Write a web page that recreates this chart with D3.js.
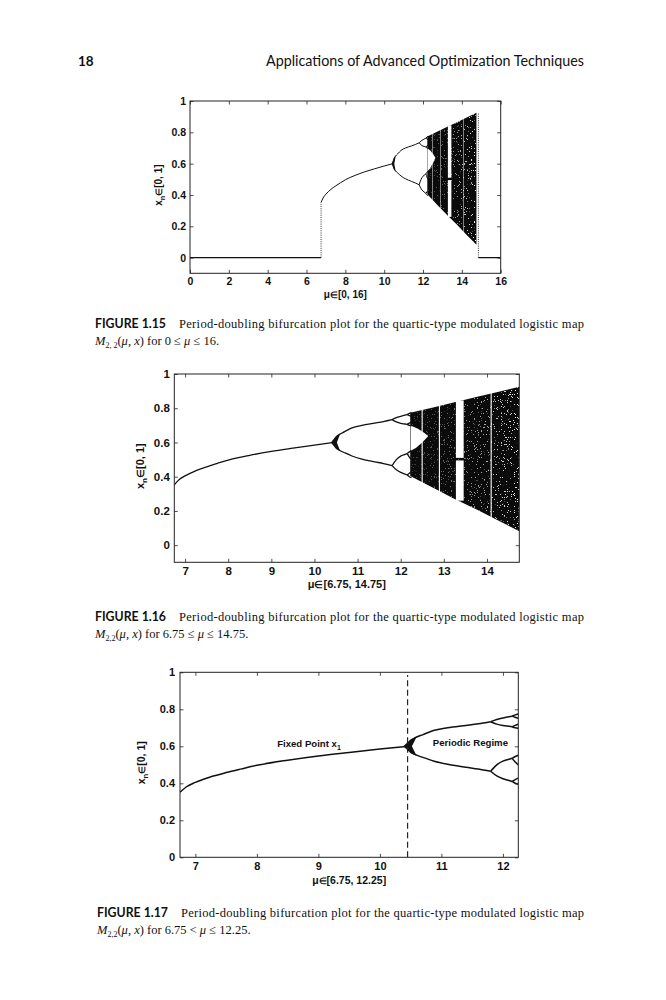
<!DOCTYPE html>
<html>
<head>
<meta charset="utf-8">
<script src="https://cdnjs.cloudflare.com/ajax/libs/d3/7.8.5/d3.min.js"></script>
<style>
body { margin: 0; background: #fff; }
.tick text { font-family: "Liberation Sans", Arial, sans-serif; font-weight: bold; fill: #111; }
.lab { font-family: "Liberation Sans", Arial, sans-serif; font-weight: bold; fill: #111; }
</style>
</head>
<body>
<script>
// branches of the bifurcation plot (mu, x)
const fixedMu = [6.75, 6.85, 7, 7.25, 7.5, 7.75, 8, 8.5, 9, 9.5, 10, 10.45];
const fixedX  = [0.352, 0.38, 0.405, 0.435, 0.458, 0.478, 0.497, 0.525, 0.548, 0.567, 0.585, 0.6];

const p2Mu     = [10.45, 10.5, 10.57, 10.7, 10.87, 11.1, 11.4, 11.6, 11.8];
const p2UpperX = [0.6, 0.628, 0.645, 0.663, 0.685, 0.7, 0.713, 0.722, 0.733];
const p2LowerX = [0.6, 0.572, 0.556, 0.54, 0.521, 0.503, 0.487, 0.477, 0.465];

const p4Mu = [11.8, 11.9, 12, 12.1, 12.15];
const p4X = [
	[0.733, 0.745, 0.753, 0.76, 0.763],
	[0.733, 0.72, 0.712, 0.708, 0.706],
	[0.465, 0.5, 0.52, 0.53, 0.535],
	[0.465, 0.44, 0.425, 0.415, 0.41]
];
const p8Mu = [12.15, 12.2, 12.25];
const p8X = [
	[0.763, 0.77, 0.775], [0.763, 0.757, 0.752],
	[0.706, 0.713, 0.72], [0.706, 0.7, 0.697],
	[0.535, 0.545, 0.552], [0.535, 0.515, 0.5],
	[0.41, 0.42, 0.428], [0.41, 0.4, 0.395]
];

// dark wedge where the orbit converges slowly at the first doubling
const blobMu = [10.38, 10.5, 10.6, 10.58, 10.52, 10.58, 10.6, 10.5];
const blobX  = [0.6, 0.638, 0.654, 0.64, 0.6, 0.56, 0.548, 0.562];

// chaotic band envelope
const chaosMu      = [12.22, 12.75, 13.25, 13.75, 14.25, 14.75];
const chaosTopX    = [0.773, 0.805, 0.835, 0.865, 0.895, 0.925];
const chaosBottomX = [0.404, 0.335, 0.27, 0.21, 0.145, 0.082];

// white gap between the two chaotic bands
const inletMu = [12.23, 12.4, 12.55, 12.64, 12.5, 12.35, 12.23];
const inletX  = [0.699, 0.68, 0.656, 0.638, 0.6, 0.568, 0.552];

// periodic windows inside the chaos
const winMuFrom = [12.485, 12.885, 13.28, 13.28, 14.085];
const winMuTo   = [12.51, 12.91, 13.46, 13.46, 14.11];
const winXFrom  = [0.3, 0.25, 0.51, 0.26, 0.1];
const winXTo    = [0.8, 0.85, 0.845, 0.495, 0.95];

// only on the full range plot
const zeroLeftMu  = [0, 6.75];
const zeroRightMu = [14.85, 16];
const jumpMu   = [6.75, 14.85];
const jumpTopX = [0.352, 0.925];

const boundaryMu = [10.45];

const xTicks1 = [0, 2, 4, 6, 8, 10, 12, 14, 16];
const xTicks2 = [7, 8, 9, 10, 11, 12, 13, 14];
const xTicks3 = [7, 8, 9, 10, 11, 12];
const yTicks  = [0, 0.2, 0.4, 0.6, 0.8, 1];

const w = 666;
const h = 1000;

const svg = d3.select("body").append("svg").attr("width", w).attr("height", h).style("background-color", "white");
const defs = svg.append("defs");

// speckle texture for the chaotic band
const f = defs.append("filter").attr("id", "speckle");
f.append("feTurbulence").attr("type", "fractalNoise").attr("baseFrequency", 1.3).attr("numOctaves", 1).attr("seed", 7).attr("result", "noise");
f.append("feColorMatrix").attr("in", "noise").attr("type", "matrix")
	.attr("values", "0 0 0 0 1  0 0 0 0 1  0 0 0 0 1  30 0 0 0 -19.3").attr("result", "dots");
f.append("feComposite").attr("in", "dots").attr("in2", "SourceAlpha").attr("operator", "in");

const grad = defs.append("linearGradient").attr("id", "speckFade").attr("x1", 0).attr("x2", 1).attr("y1", 0).attr("y2", 0);
grad.append("stop").attr("offset", 0).attr("stop-color", "#333");
grad.append("stop").attr("offset", 0.45).attr("stop-color", "#777");
grad.append("stop").attr("offset", 1).attr("stop-color", "#eee");
defs.append("mask").attr("id", "speckMask").attr("maskContentUnits", "objectBoundingBox")
	.append("rect").attr("width", 1).attr("height", 1).attr("fill", "url(#speckFade)");

const pairs = (mu, xs) => mu.map((m, i) => [m, xs[i]]);

const panels = [
	{left: 190, top: 101, right: 500.7, bottom: 273.3, xDom: [0, 16], yDom: [-0.1, 1], xTicks: xTicks1,
		fs: 10.5, pad: 4, xLabel: "μ∈[0, 16]", xLabelY: 298, yLabelX: 162, sw: 1, full: true},
	{left: 174.3, top: 374, right: 519.3, bottom: 562.3, xDom: [6.75, 14.75], yDom: [-0.1, 1], xTicks: xTicks2,
		fs: 11.5, pad: 4.5, xLabel: "μ∈[6.75, 14.75]", xLabelY: 588, yLabelX: 144, sw: 1.3},
	{left: 180, top: 672.3, right: 518.3, bottom: 857.3, xDom: [6.75, 12.25], yDom: [0, 1], xTicks: xTicks3,
		fs: 11, pad: 5, xLabel: "μ∈[6.75, 12.25]", xLabelY: 884, yLabelX: 145, sw: 1.5, notes: true}
];

panels.forEach((p, k) => {
	const x = d3.scaleLinear().domain(p.xDom).range([p.left, p.right]);
	const y = d3.scaleLinear().domain(p.yDom).range([p.bottom, p.top]);
	const line = d3.line().x(d => x(d[0])).y(d => y(d[1]));
	const smooth = d3.line().x(d => x(d[0])).y(d => y(d[1])).curve(d3.curveMonotoneX);

	defs.append("clipPath").attr("id", `clip${k}`).append("rect")
		.attr("x", p.left).attr("y", p.top).attr("width", p.right - p.left).attr("height", p.bottom - p.top);
	const g = svg.append("g").attr("clip-path", `url(#clip${k})`);

	// chaotic region (the last plot stops right where it starts)
	if (!p.notes) {
		const band = pairs(chaosMu, chaosTopX).concat(pairs(chaosMu, chaosBottomX).reverse());
		g.append("path").attr("d", line(band) + "Z").attr("fill", "#0b0b0b");
		g.append("g").attr("mask", "url(#speckMask)")
			.append("path").attr("d", line(band) + "Z").attr("fill", "#000").attr("filter", "url(#speckle)");

		winMuFrom.forEach((m, i) => {
			g.append("rect").attr("x", x(m)).attr("width", x(winMuTo[i]) - x(m))
				.attr("y", y(winXTo[i])).attr("height", y(winXFrom[i]) - y(winXTo[i])).attr("fill", "#fff");
		});
		g.append("path").attr("d", line(pairs(inletMu, inletX)) + "Z").attr("fill", "#fff");
	}

	// periodic branches
	const branches = [pairs(fixedMu, fixedX), pairs(p2Mu, p2UpperX), pairs(p2Mu, p2LowerX)]
		.concat(p4X.map(xs => pairs(p4Mu, xs)), p8X.map(xs => pairs(p8Mu, xs)));
	g.selectAll(".branch").data(branches).enter().append("path").attr("class", "branch")
		.attr("d", smooth).attr("fill", "none").attr("stroke", "#111").attr("stroke-width", p.sw);
	g.append("path").attr("d", line(pairs(blobMu, blobX)) + "Z").attr("fill", "#111");

	if (p.full) {
		[zeroLeftMu, zeroRightMu].forEach(seg => {
			g.append("path").attr("d", line(seg.map(m => [m, 0]))).attr("stroke", "#111").attr("stroke-width", 1.2).attr("fill", "none");
		});
		jumpMu.forEach((m, i) => {
			g.append("path").attr("d", line([[m, 0], [m, jumpTopX[i]]]))
				.attr("stroke", "#333").attr("stroke-width", 1).attr("stroke-dasharray", "1,1.2").attr("fill", "none");
		});
	}

	if (p.notes) {
		boundaryMu.forEach(m => {
			g.append("path").attr("d", line([[m, 0], [m, 0.985]]))
				.attr("stroke", "#222").attr("stroke-width", 1.2).attr("stroke-dasharray", "6,3.5").attr("fill", "none");
		});
		const t1 = svg.append("text").attr("class", "lab").attr("x", x(8.33)).attr("y", y(0.597)).style("font-size", "9.6px");
		t1.append("tspan").text("Fixed Point x");
		t1.append("tspan").attr("dy", 3).style("font-size", "7px").text("1");
		svg.append("text").attr("class", "lab").attr("x", x(10.86)).attr("y", y(0.6)).style("font-size", "9.6px").text("Periodic Regime");
	}

	// axes, MATLAB style with inward ticks on all four sides
	const ax = (axis, tr, labels) => {
		const a = svg.append("g").attr("transform", tr).call(axis.tickSize(-3.5).tickSizeOuter(0).tickPadding(p.pad));
		a.select(".domain").remove();
		a.selectAll(".tick line").attr("stroke", "#222").attr("stroke-width", 0.8);
		a.selectAll(".tick text").style("font-size", `${p.fs}px`);
		if (!labels) a.selectAll(".tick text").remove();
	};
	ax(d3.axisBottom(x).tickValues(p.xTicks).tickFormat(d3.format("")), `translate(0, ${p.bottom})`, true);
	ax(d3.axisTop(x).tickValues(p.xTicks), `translate(0, ${p.top})`, false);
	ax(d3.axisLeft(y).tickValues(yTicks).tickFormat(d3.format("")), `translate(${p.left}, 0)`, true);
	ax(d3.axisRight(y).tickValues(yTicks), `translate(${p.right}, 0)`, false);

	svg.append("rect").attr("x", p.left).attr("y", p.top).attr("width", p.right - p.left).attr("height", p.bottom - p.top)
		.attr("fill", "none").attr("stroke", "#222").attr("stroke-width", 1);

	const xl = svg.append("text").attr("class", "lab").attr("x", (p.left + p.right) / 2).attr("y", p.xLabelY)
		.attr("text-anchor", "middle").style("font-size", `${p.fs - 0.5}px`);
	xl.append("tspan").text(p.xLabel.slice(0, 1));
	xl.append("tspan").style("font-size", `${p.fs - 2}px`).text("∈");
	xl.append("tspan").text(p.xLabel.slice(2));

	const yl = svg.append("text").attr("class", "lab").attr("text-anchor", "middle").style("font-size", `${p.fs - 0.5}px`)
		.attr("transform", `translate(${p.yLabelX}, ${(p.top + p.bottom) / 2 - 2}) rotate(-90)`);
	yl.append("tspan").text("x");
	yl.append("tspan").attr("dy", 3).style("font-size", `${p.fs * 0.7}px`).text("n");
	yl.append("tspan").attr("dy", -3).style("font-size", `${p.fs - 2}px`).text("∈");
	yl.append("tspan").text("[0, 1]");
});

// page header
svg.append("text").attr("x", 78).attr("y", 66).text("18")
	.style("font-family", "Lato, 'Open Sans', sans-serif").style("font-weight", "bold").style("font-size", "13.5px").style("fill", "#111");
svg.append("text").attr("x", 266).attr("y", 66).attr("textLength", 318).attr("lengthAdjust", "spacingAndGlyphs")
	.text("Applications of Advanced Optimization Techniques")
	.style("font-family", "Lato, 'Open Sans', sans-serif").style("font-size", "14.5px").style("fill", "#111");

// captions
const captions = [
	{fig: "FIGURE 1.15", x: 95, y: 328, sub: "2, 2", range: ["0 ≤ ", " ≤ 16."]},
	{fig: "FIGURE 1.16", x: 95, y: 621, sub: "2,2", range: ["6.75 ≤ ", " ≤ 14.75."]},
	{fig: "FIGURE 1.17", x: 97, y: 917, sub: "2,2", range: ["6.75 < ", " ≤ 12.25."]}
];
captions.forEach(c => {
	svg.append("text").attr("x", c.x).attr("y", c.y).attr("textLength", 71).attr("lengthAdjust", "spacingAndGlyphs").text(c.fig)
		.style("font-family", "Lato, 'Open Sans', sans-serif").style("font-weight", "bold").style("font-size", "12.5px").style("fill", "#111");
	svg.append("text").attr("x", c.x + 84).attr("y", c.y).attr("textLength", 584 - c.x - 84).attr("lengthAdjust", "spacing")
		.text("Period-doubling bifurcation plot for the quartic-type modulated logistic map")
		.style("font-family", "'Liberation Serif', 'Times New Roman', serif").style("font-size", "12.5px").style("fill", "#111");
	const t = svg.append("text").attr("x", c.x).attr("y", c.y + 16.5)
		.style("font-family", "'Liberation Serif', 'Times New Roman', serif").style("font-size", "12.5px").style("fill", "#111");
	t.append("tspan").style("font-style", "italic").text("M");
	t.append("tspan").attr("dy", 3).style("font-size", "8px").text(c.sub);
	t.append("tspan").attr("dy", -3).text("(");
	t.append("tspan").style("font-style", "italic").text("μ");
	t.append("tspan").text(", ");
	t.append("tspan").style("font-style", "italic").text("x");
	t.append("tspan").text(") for " + c.range[0]);
	t.append("tspan").style("font-style", "italic").text("μ");
	t.append("tspan").text(c.range[1]);
});
</script>
</body>
</html>
